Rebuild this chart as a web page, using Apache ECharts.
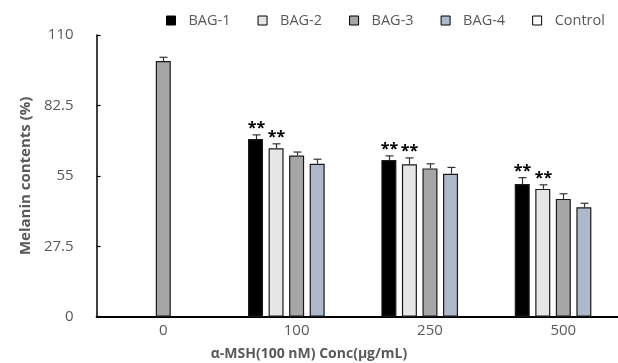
<!DOCTYPE html>
<html><head><meta charset="utf-8">
<script src="https://cdn.jsdelivr.net/npm/echarts@6/dist/echarts.min.js"></script>
<style>html,body{margin:0;padding:0;background:#fff}#c{width:618px;height:363px}</style>
</head><body><div id="c"></div>
<script>
// ---- data ----
const categories = ['0', '100', '250', '500'];
const seriesNames = ['BAG-1', 'BAG-2', 'BAG-3', 'BAG-4', 'Control'];
const bag1 = [null, 69.4, 61.2, 51.8];
const bag2 = [null, 65.8, 59.5, 49.9];
const bag3 = [99.8, 62.9, 57.9, 46.0];
const bag4 = [null, 59.7, 55.8, 42.7];
const control = [null, null, null, null];
const err1 = [null, 1.6, 1.6, 2.5];
const err2 = [null, 1.7, 2.5, 1.6];
const err3 = [1.5, 1.4, 1.8, 2.0];
const err4 = [null, 1.8, 2.5, 1.6];
const sig1 = ['', '**', '**', '**'];
const sig2 = ['', '**', '**', '**'];
const sig3 = ['', '', '', ''];
const sig4 = ['', '', '', ''];
const yMin = 0, yMax = 110, yStep = 27.5;

// ---- style ----
const colors = ['#000000', '#e6e6e6', '#a6a6a6', '#adb9ca', '#ffffff'];
const FONT = '"Open Sans", "Noto Sans", sans-serif';
const BAR_W = 15, GAP = 0.37;
const NSER = 5;

const values = [bag1, bag2, bag3, bag4, control];
const errs = [err1, err2, err3, err4];
const sigs = [sig1, sig2, sig3, sig4];

const chart = echarts.init(document.getElementById('c'), null, {renderer: 'canvas'});

const barSeries = seriesNames.map((name, s) => ({
  name: name,
  type: 'bar',
  barWidth: BAR_W,
  barGap: (GAP * 100) + '%',
  data: values[s].map(v => (v === null ? '-' : v)),
  itemStyle: {color: colors[s], borderColor: '#1a1a1a', borderWidth: 1.2},
  silent: true,
  z: 2
}));

const errSeries = errs.map((errArr, s) => {
  const data = [];
  values[s].forEach((v, i) => { if (v !== null && errArr[i] !== null) data.push([i, v, errArr[i]]); });
  return {
    type: 'custom',
    name: 'err' + s,
    silent: true,
    z: 5,
    encode: {x: 0, y: 1},
    data: data,
    renderItem: function (params, api) {
      const cat = api.value(0), v = api.value(1), e = api.value(2);
      const step = BAR_W * (1 + GAP);
      const off = (s - (NSER - 1) / 2) * step;
      const p0 = api.coord([cat, v]);
      const p1 = api.coord([cat, v + e]);
      const x = Math.round(p0[0] + off) + 0.5;
      const children = [
        {type: 'line', shape: {x1: x, y1: p0[1], x2: x, y2: p1[1]}, style: {stroke: '#333', lineWidth: 1.2}},
        {type: 'line', shape: {x1: x - 4, y1: p1[1], x2: x + 4, y2: p1[1]}, style: {stroke: '#333', lineWidth: 1.2}}
      ];
      const sg = sigs[s][cat];
      if (sg) {
        children.push({type: 'text', style: {text: sg, x: x, y: p1[1] - 6, align: 'center', verticalAlign: 'middle',
          font: 'bold 16px ' + FONT, fill: '#000'}});
      }
      return {type: 'group', children: children};
    }
  };
});

chart.setOption({
  animation: false,
  backgroundColor: '#fff',
  textStyle: {fontFamily: FONT},
  legend: {
    data: seriesNames,
    left: 161, top: 8,
    icon: 'rect',
    itemWidth: 9, itemHeight: 9, itemGap: 27,
    itemStyle: {borderColor: '#000', borderWidth: 1},
    textStyle: {fontFamily: FONT, fontSize: 14.5, color: '#595959', padding: [0, 0, 0, 8]}
  },
  grid: {left: 96.6, top: 35, bottom: 46.3, right: -12, containLabel: false, outerBoundsMode: 'none'},
  xAxis: {
    type: 'category',
    data: categories,
    axisLine: {show: true, lineStyle: {color: '#000', width: 2}},
    axisTick: {show: false},
    axisLabel: {color: '#595959', fontSize: 15, margin: 7, fontFamily: FONT},
    splitLine: {show: false}
  },
  yAxis: {
    type: 'value',
    min: yMin, max: yMax, interval: yStep,
    axisLine: {show: true, lineStyle: {color: '#000', width: 1.5}},
    axisTick: {show: true, inside: true, length: 4, lineStyle: {color: '#000', width: 1.2}},
    axisLabel: {color: '#595959', fontSize: 15, margin: 23, fontFamily: FONT},
    splitLine: {show: false},
    name: 'Melanin contents (%)',
    nameLocation: 'middle',
    nameGap: 62,
    nameTextStyle: {color: '#595959', fontSize: 15, fontWeight: 'bold', fontFamily: FONT}
  },
  graphic: [{
    type: 'text', left: 'center', top: 347,
    style: {text: 'α-MSH(100 nM) Conc(μg/mL)', font: 'bold 14px ' + FONT, fill: '#595959'}
  }],
  series: barSeries.concat(errSeries)
});
</script>
</body></html>
